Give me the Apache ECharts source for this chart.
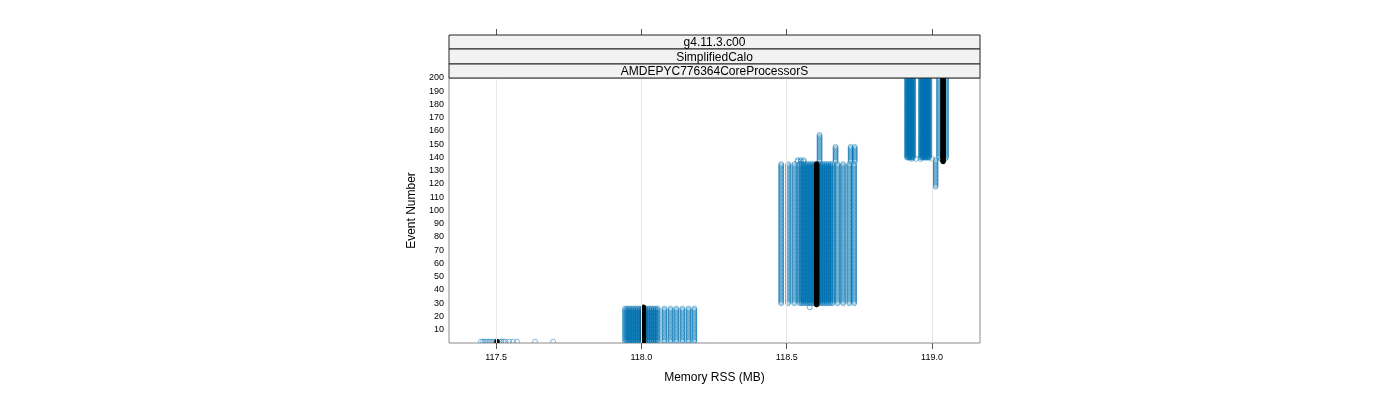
<!DOCTYPE html>
<html>
<head>
<meta charset="utf-8">
<script src="https://cdn.jsdelivr.net/npm/echarts@6/dist/echarts.min.js"></script>
<style>
html,body{margin:0;padding:0;background:#fff;}
#chart{width:1400px;height:400px;}
</style>
</head>
<body>
<div id="chart"></div>
<script>
// ---- data ----
const stripLabels = ["g4.11.3.c00", "SimplifiedCalo", "AMDEPYC776364CoreProcessorS"];
const xTicks = [117.5, 118.0, 118.5, 119.0];
const xRange = [117.338, 119.165];
const yRange = [0, 200];

// blue open-circle runs: memory value (MB), first event, last event
const blueMem  = [
  // around 117.5, event 1
  117.448,117.455,117.462,117.469,117.476,117.483,117.490,117.497,117.504,117.511,117.518,117.525,117.532,
  117.545,117.558,117.572,117.634,117.696,
  // around 118.0, events 1-26
  117.944,117.951,117.958,117.965,117.972,117.979,117.986,117.993,118.000,118.007,118.014,118.021,118.028,
  118.035,118.042,118.049,118.056,
  118.079,118.100,118.120,118.141,118.162,118.182,
  117.970,117.985,
  // around 118.6, events 30-135
  118.481,118.505,118.526,
  118.545,118.552,118.559,118.566,118.573,118.580,118.587,118.594,118.601,118.608,118.615,118.622,118.629,
  118.636,118.643,118.650,118.657,
  118.675,118.694,118.715,118.732,
  118.579,118.538,118.548,118.558,118.613,118.668,118.720,118.734,
  // around 119.0, events 140-200
  118.914,118.917,118.921,118.924,118.928,118.931,118.935,
  118.962,118.966,118.969,118.973,118.976,118.980,118.983,118.987,118.990,
  119.024,119.048,
  119.012,118.930,118.945,118.960,119.000,119.030,119.045];
const blueFrom = [
  1,1,1,1,1,1,1,1,1,1,1,1,1,
  1,1,1,1,1,
  1,1,1,1,1,1,1,1,1,1,1,1,1,
  1,1,1,1,
  1,1,1,1,1,1,
  0,0,
  30,30,30,
  30,30,30,30,30,30,30,30,30,30,30,30,30,
  30,30,30,30,
  30,30,30,30,
  27,137,137,137,137,137,137,137,
  140,140,140,140,140,140,140,
  140,140,140,140,140,140,140,140,140,
  140,140,
  118,139,139,139,139,139,139];
const blueTo   = [
  1,1,1,1,1,1,1,1,1,1,1,1,1,
  1,1,1,1,1,
  26,26,26,26,26,26,26,26,26,26,26,26,26,
  26,26,26,26,
  26,26,26,26,26,26,
  0,0,
  135,135,135,
  135,135,135,135,135,135,135,135,135,135,135,135,135,
  135,135,135,135,
  135,135,135,135,
  27,138,138,138,157,148,148,148,
  200,200,200,200,200,200,200,
  200,200,200,200,200,200,200,200,200,
  200,200,
  138,139,139,139,139,139,139];

// black filled-circle run
const blackMem  = [117.503, 118.007, 118.603, 119.038];
const blackFrom = [1, 1, 29, 137];
const blackTo   = [1, 27, 135, 200];

// ---- build points ----
function expand(mem, from, to) {
  const out = [];
  for (let i = 0; i < mem.length; i++) {
    for (let e = from[i]; e <= to[i]; e++) out.push([mem[i], e]);
  }
  return out;
}
const bluePts = expand(blueMem, blueFrom, blueTo);
const blackPts = expand(blackMem, blackFrom, blackTo);

const FONT = "'Liberation Sans', Arial, Helvetica, sans-serif";
const chart = echarts.init(document.getElementById('chart'), null, {renderer: 'canvas'});

const G = {left: 449, top: 78, width: 531, height: 265};
const stripH = [14, 15, 14];
const graphics = [];
let sy = 35;
for (let i = 0; i < stripLabels.length; i++) {
  graphics.push({
    type: 'rect', shape: {x: G.left, y: sy, width: G.width, height: stripH[i]},
    style: {fill: '#f2f2f2', stroke: '#222', lineWidth: 1}, z: 100
  });
  graphics.push({
    type: 'text', x: G.left + G.width / 2, y: sy + stripH[i] / 2 + 1,
    style: {text: stripLabels[i], fontSize: 12, fontFamily: FONT, fill: '#000',
            textAlign: 'center', textVerticalAlign: 'middle'}, z: 101
  });
  sy += stripH[i];
}

function circleRenderer(stroke, fill, lw, r) {
  return function (params, api) {
    const p = api.coord([api.value(0), api.value(1)]);
    return {
      type: 'circle', shape: {cx: p[0], cy: p[1], r: r},
      style: {fill: fill, stroke: stroke, lineWidth: lw}, silent: true
    };
  };
}

chart.setOption({
  animation: false,
  backgroundColor: '#fff',
  grid: {left: G.left, top: G.top, width: G.width, height: G.height,
         show: true, borderColor: '#8a8a8a', borderWidth: 1, backgroundColor: 'transparent'},
  xAxis: [{
    type: 'value', min: xRange[0], max: xRange[1], position: 'bottom',
    axisLine: {show: false},
    axisTick: {show: true, customValues: xTicks, length: 6, inside: false, lineStyle: {color: '#555'}},
    axisLabel: {customValues: xTicks, fontSize: 9, fontFamily: FONT, color: '#000', margin: 10,
                formatter: v => v.toFixed(1)},
    splitLine: {show: false},
    name: 'Memory RSS (MB)', nameLocation: 'middle', nameGap: 29,
    nameTextStyle: {fontSize: 12, fontFamily: FONT, color: '#000'}
  }, {
    type: 'value', min: xRange[0], max: xRange[1], position: 'top', offset: 43,
    axisLine: {show: false},
    axisTick: {show: true, customValues: xTicks, length: 6, inside: false, lineStyle: {color: '#555'}},
    axisLabel: {show: false},
    splitLine: {show: false}
  }],
  yAxis: {
    type: 'value', min: yRange[0], max: yRange[1], interval: 10,
    axisLine: {show: false}, axisTick: {show: false},
    axisLabel: {fontSize: 9, fontFamily: FONT, color: '#000', margin: 5,
                formatter: v => (v === 0 ? '' : String(v))},
    splitLine: {show: false},
    name: 'Event Number', nameLocation: 'middle', nameGap: 31, nameRotate: 90,
    nameTextStyle: {fontSize: 12, fontFamily: FONT, color: '#000'}
  },
  graphic: graphics,
  series: [{
    type: 'scatter', data: [], z: 1, silent: true,
    markLine: {
      silent: true, symbol: 'none', label: {show: false}, animation: false,
      lineStyle: {color: '#e6e6e6', width: 1, type: 'solid'},
      data: xTicks.map(v => ({xAxis: v}))
    }
  }, {
    type: 'custom', data: bluePts, z: 2, clip: true, silent: true, progressive: 0,
    renderItem: circleRenderer('rgba(0,114,178,0.7)', 'none', 0.7, 2.5)
  }, {
    type: 'custom', data: blackPts, z: 3, clip: true, silent: true, progressive: 0,
    renderItem: circleRenderer('#000', '#000', 1, 2.3)
  }]
});
</script>
</body>
</html>
